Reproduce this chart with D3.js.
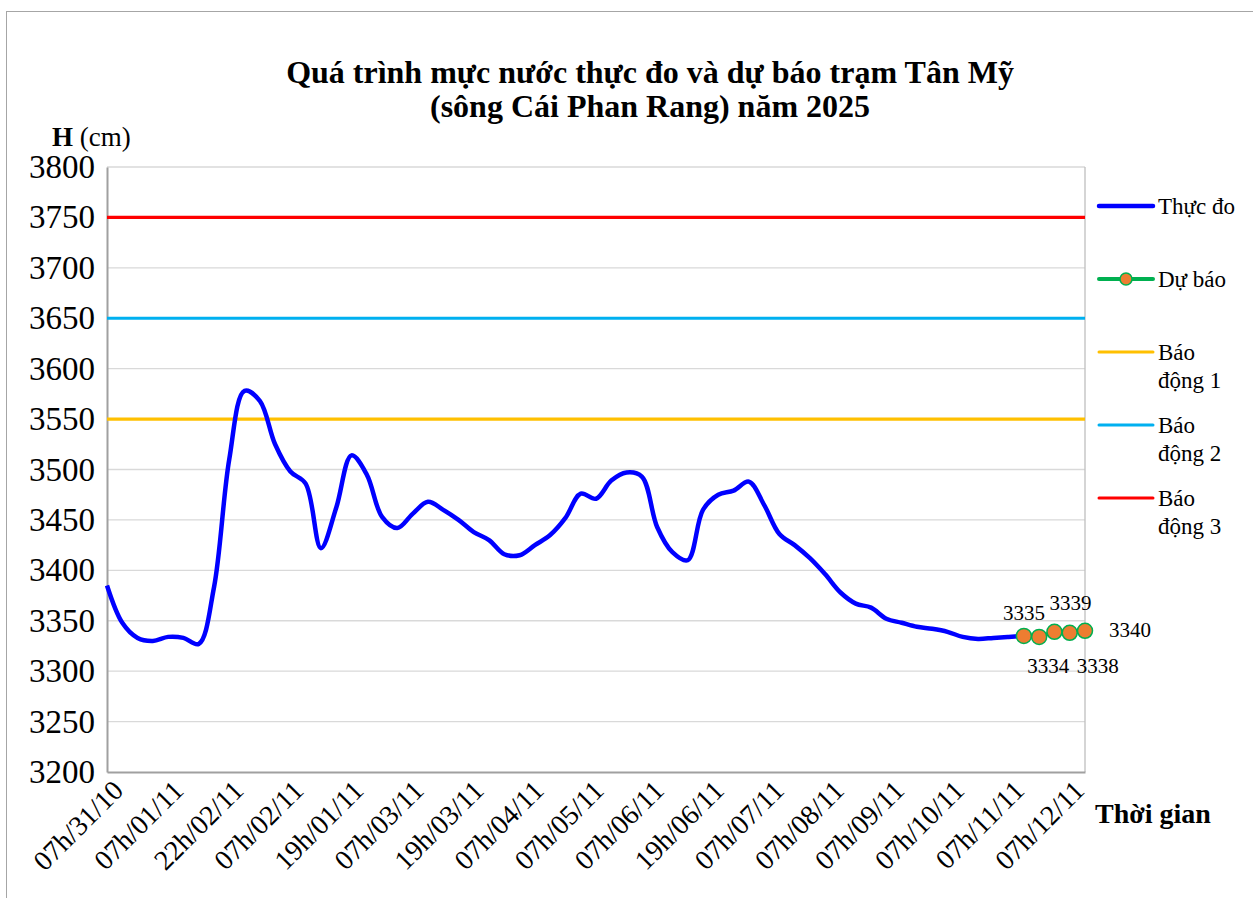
<!DOCTYPE html>
<html>
<head>
<meta charset="utf-8">
<script src="https://cdn.jsdelivr.net/npm/d3@7"></script>
<style>
  body { margin: 0; background: #fff; }
  svg text, svg tspan { font-family: "Liberation Serif", "DejaVu Serif", serif !important; }
</style>
</head>
<body>
<svg id="chart_svg" width="1253" height="898"></svg>
<script>
// categories: 65 time steps, a label every 4th step
var tickLabels = ["07h/31/10","07h/01/11","22h/02/11","07h/02/11","19h/01/11","07h/03/11",
  "19h/03/11","07h/04/11","07h/05/11","07h/06/11","19h/06/11","07h/07/11","07h/08/11",
  "07h/09/11","07h/10/11","07h/11/11","07h/12/11"]

// Thực đo (steps 0..60)
var observed = [3385,3348,3333,3330,3334,3333,3327,3383,3510,3578,3568,3525,3498,3486,3422,3462,
  3514,3495,3453,3442,3456,3468,3460,3450,3438,3430,3416,3415,3425,3435,3452,3476,3471,3489,
  3497,3493,3443,3418,3410,3460,3475,3479,3488,3465,3436,3425,3412,3396,3378,3367,3363,3352,
  3348,3344,3342,3339,3334,3332,3333,3334,3335]

// Dự báo (steps 60..64)
var forecastStart = 60
var forecast = [3335,3334,3339,3338,3340]

// alarm levels
var alarmNames = ["Báo động 1","Báo động 2","Báo động 3"]
var alarmLevels = [3550,3650,3750]
var alarmColors = ["#FFC000","#00B0F0","#FF0000"]

var yTicks = d3.range(3200, 3801, 50)

document.addEventListener('DOMContentLoaded', function()
{
    var svg = d3.select("#chart_svg")
    var nSteps = observed.length + forecast.length - 1   // 65
    var left = 107, right = 1085, top = 167, bottom = 772
    var serif = "Liberation Serif"

    var x = d3.scaleLinear().domain([0, nSteps - 1]).range([left, right])
    var y = d3.scaleLinear().domain([3200, 3800]).range([bottom, top])
    // label anchors (Excel spreads them a bit differently from the ticks)
    var xl = d3.scalePoint().domain(tickLabels).range([left + 18, right + 1])

    // outer frame
    svg.append("rect")
        .attr("x", 6.5).attr("y", 11.5)
        .attr("width", 1250).attr("height", 892)
        .attr("fill", "none").attr("stroke", "#a6a6a6")

    // title
    var title = svg.append("text")
        .attr("text-anchor", "middle")
        .style("font-family", serif)
        .style("font-weight", "bold").style("font-size", "32px")
    title.append("tspan").attr("x", 650).attr("y", 83).text("Quá trình mực nước thực đo và dự báo trạm Tân Mỹ")
    title.append("tspan").attr("x", 650).attr("y", 117).text("(sông Cái Phan Rang) năm 2025")

    // grid
    svg.append("g").selectAll("line")
        .data(yTicks.filter(d => d > 3200))
        .join("line")
        .attr("x1", left).attr("x2", right)
        .attr("y1", d => y(d)).attr("y2", d => y(d))
        .attr("stroke", "#d9d9d9").attr("stroke-width", 1.3)

    // plot border right
    svg.append("line")
        .attr("x1", right).attr("x2", right).attr("y1", top).attr("y2", bottom)
        .attr("stroke", "#bfbfbf").attr("stroke-width", 1.3)

    // y axis
    var yAxis = svg.append("g")
        .attr("transform", `translate(${left},0)`)
        .attr("font-family", serif)
        .call(d3.axisLeft(y).tickValues(yTicks).tickFormat(d3.format("d")).tickSize(0).tickPadding(12))
    yAxis.select(".domain").attr("stroke", "#a0a0a0").attr("stroke-width", 2)
    yAxis.selectAll("text")
        .style("font-size", "33px").attr("fill", "#000")
        .style("font-family", serif)

    // x axis
    var xAxis = svg.append("g")
        .attr("transform", `translate(0,${bottom})`)
        .call(d3.axisBottom(x).tickValues(d3.range(0, nSteps, 4)).tickSize(0).tickFormat(""))
    xAxis.select(".domain").attr("stroke", "#a0a0a0").attr("stroke-width", 2)

    svg.append("g").selectAll("text")
        .data(tickLabels)
        .join("text")
        .attr("text-anchor", "end")
        .attr("transform", d => `translate(${xl(d)},${bottom + 20}) rotate(-45)`)
        .style("font-family", serif)
        .style("font-size", "28px")
        .text(d => d)

    svg.append("text")
        .attr("x", 1095).attr("y", 823)
        .style("font-family", serif)
        .style("font-weight", "bold").style("font-size", "28px")
        .text("Thời gian")

    var ylab = svg.append("text").attr("x", 52).attr("y", 146)
        .style("font-family", serif).style("font-size", "27px")
    ylab.append("tspan").style("font-weight", "bold").text("H")
    ylab.append("tspan").text(" (cm)")

    // alarm lines
    svg.append("g").selectAll("line")
        .data(alarmLevels)
        .join("line")
        .attr("x1", left).attr("x2", right)
        .attr("y1", d => y(d)).attr("y2", d => y(d))
        .attr("stroke", (d, i) => alarmColors[i]).attr("stroke-width", 3.2)

    // observed line
    var line = d3.line()
        .x((d, i) => x(i))
        .y(d => y(d))
        .curve(d3.curveCatmullRom.alpha(0.5))
    svg.append("path")
        .datum(observed)
        .attr("d", line)
        .attr("fill", "none").attr("stroke", "#0000FF").attr("stroke-width", 4.5)
        .attr("stroke-linejoin", "round")

    // forecast
    var fline = d3.line()
        .x((d, i) => x(forecastStart + i))
        .y(d => y(d))
    svg.append("path")
        .datum(forecast)
        .attr("d", fline)
        .attr("fill", "none").attr("stroke", "#00B050").attr("stroke-width", 4)
    svg.append("g").selectAll("circle")
        .data(forecast)
        .join("circle")
        .attr("cx", (d, i) => x(forecastStart + i))
        .attr("cy", d => y(d))
        .attr("r", 7.5)
        .attr("fill", "#ED7D31").attr("stroke", "#00B050").attr("stroke-width", 1.5)

    // forecast labels (moved around by hand in the original)
    var labelOffsets = [[0, -16], [9, 36], [16, -22], [28, 40], [45, 6]]
    svg.append("g").selectAll("text")
        .data(forecast)
        .join("text")
        .attr("text-anchor", "middle")
        .attr("x", (d, i) => x(forecastStart + i) + labelOffsets[i][0])
        .attr("y", (d, i) => y(d) + labelOffsets[i][1])
        .style("font-family", serif)
        .style("font-size", "21px")
        .text(d => d)

    // legend
    var legend = [
        {name: ["Thực đo"], color: "#0000FF", y: 206, w: 4.5},
        {name: ["Dự báo"], color: "#00B050", y: 279, w: 4, dot: true},
        {name: ["Báo", "động 1"], color: alarmColors[0], y: 352, w: 3},
        {name: ["Báo", "động 2"], color: alarmColors[1], y: 425, w: 3},
        {name: ["Báo", "động 3"], color: alarmColors[2], y: 498, w: 3}
    ]
    var lg = svg.append("g").selectAll("g").data(legend).join("g")
    lg.append("line")
        .attr("x1", 1099).attr("x2", 1153)
        .attr("y1", d => d.y).attr("y2", d => d.y)
        .attr("stroke", d => d.color).attr("stroke-width", d => d.w)
        .attr("stroke-linecap", "round")
    lg.filter(d => d.dot).append("circle")
        .attr("cx", 1126).attr("cy", d => d.y).attr("r", 6)
        .attr("fill", "#ED7D31").attr("stroke", "#00B050").attr("stroke-width", 1.5)
    lg.append("text")
        .attr("x", 1158).attr("y", d => d.y + 8)
        .style("font-family", serif)
        .style("font-size", "23px")
        .selectAll("tspan").data(d => d.name).join("tspan")
        .attr("x", 1158).attr("dy", (d, i) => i == 0 ? 0 : 28)
        .text(d => d)
})
</script>
</body>
</html>
